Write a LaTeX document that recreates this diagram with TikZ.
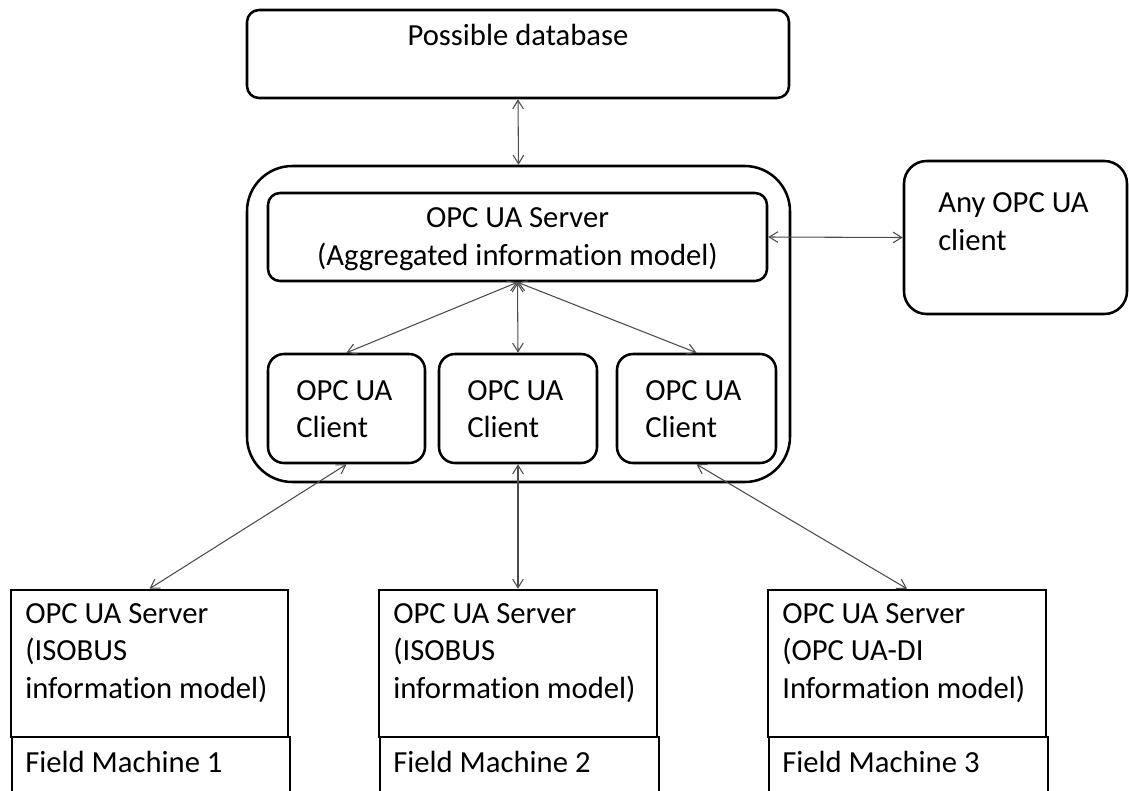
\documentclass[tikz,border=0pt]{standalone}
\usepackage{fontspec}
\setmainfont[Ligatures={NoCommon}]{Carlito}
\usetikzlibrary{arrows.meta,fit}

\begin{document}
\begin{tikzpicture}[x=0.75pt,y=-0.75pt,
  box/.style={draw=black, line width=1.9pt, rounded corners=#1, inner sep=0pt},
  plainbox/.style={draw=black, line width=1.9pt, inner sep=0pt},
  txt/.style={inner sep=0pt, font=\fontsize{23}{28.1}\selectfont, text=black},
  link/.style={draw=black!70, line width=0.8pt,
    {Straight Barb[length=6.5pt,width=8pt]}-{Straight Barb[length=6.5pt,width=8pt]}}
]
\path[use as bounding box] (0,0) rectangle (1129,790);
\clip (0,0) rectangle (1129,790);

% database on top
\node[box=9pt, fit={(247,10) (789,98)}] (db) {};
\node[txt] (dbtext) at (518,35) {Possible database};

% aggregating gateway with its server and clients
\node[box=34pt, fit={(247,166) (790,482)}] (hub) {};
\node[box=9pt, fit={(268,193) (767,281)}] (agg) {};
\node[txt, align=center] (aggtext) at (517.5,239) {OPC UA Server\\(Aggregated information model)};

\node[box=12pt, fit={(268,354) (425,463)}] (c1) {};
\node[box=12pt, fit={(439,354) (597,463)}] (c2) {};
\node[box=12pt, fit={(617,354) (776,463)}] (c3) {};
\node[txt, align=left, anchor=west] (c1text) at (296,409) {OPC UA\\Client};
\node[txt, align=left, anchor=west] (c2text) at (467,409) {OPC UA\\Client};
\node[txt, align=left, anchor=west] (c3text) at (645,409) {OPC UA\\Client};

% external client
\node[box=17pt, fit={(904,161) (1127,314)}] (any) {};
\node[txt, align=left, anchor=west] (anytext) at (938,221.5) {Any OPC UA\\client};

% field machines with their servers
\node[plainbox, fit={(11,590) (288,737)}] (s1) {};
\node[plainbox, fit={(12,737) (290,840)}] (m1) {};
\node[plainbox, fit={(379,590) (657,737)}] (s2) {};
\node[plainbox, fit={(380,737) (659,840)}] (m2) {};
\node[plainbox, fit={(768,590) (1046,737)}] (s3) {};
\node[plainbox, fit={(769,737) (1048,840)}] (m3) {};

\node[txt, align=left, anchor=west] (s1text) at (25,653) {OPC UA Server\\(ISOBUS\\information model)};
\node[txt, align=left, anchor=west] (s2text) at (393,653) {OPC UA Server\\(ISOBUS\\information model)};
\node[txt, align=left, anchor=west] (s3text) at (782,653) {OPC UA Server\\(OPC UA-DI\\Information model)};
\node[txt, anchor=west] (m1text) at (25,762) {Field Machine 1};
\node[txt, anchor=west] (m2text) at (393,762) {Field Machine 2};
\node[txt, anchor=west] (m3text) at (782,762) {Field Machine 3};

% connections
\draw[link] (db.south) -- (hub.north);
\draw[link] (agg.east) -- (any.west);
\draw[link] (agg.south) -- (c1.north);
\draw[link] (agg.south) -- (c2.north);
\draw[link] (agg.south) -- (c3.north);
\draw[link] (c1.south) -- (s1.north);
\draw[link] (c2.south) -- (s2.north);
\draw[link] (c3.south) -- (s3.north);
\end{tikzpicture}
\end{document}
